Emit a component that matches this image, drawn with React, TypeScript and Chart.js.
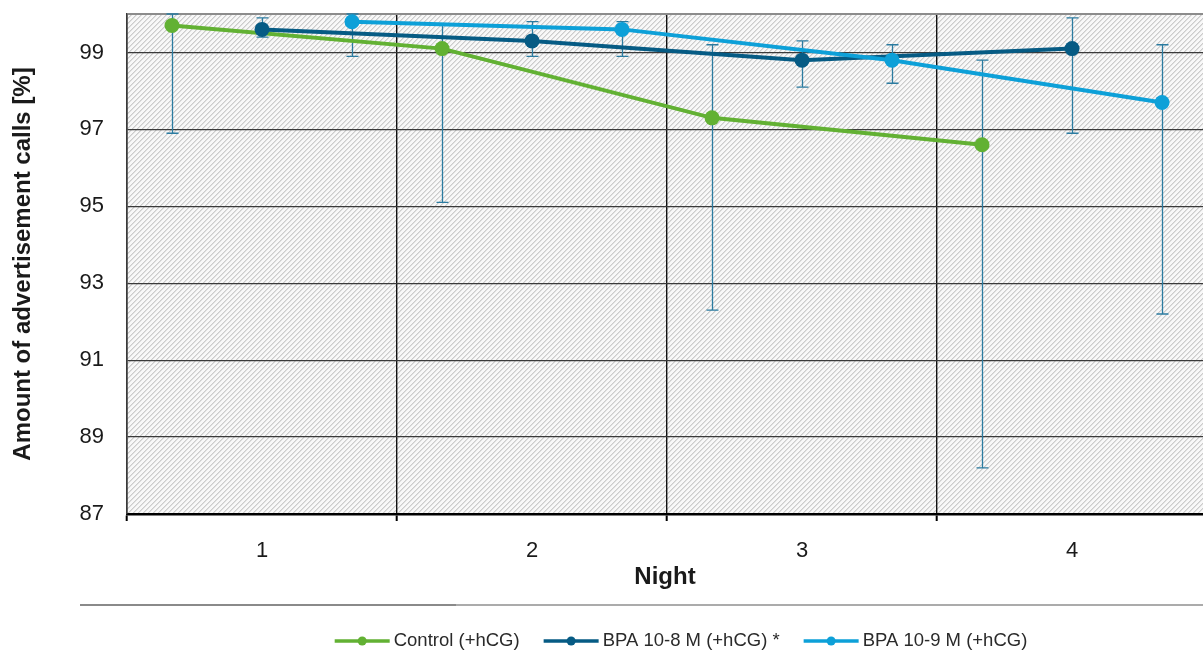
import React, { useEffect, useRef } from 'react';
import { Chart, registerables } from 'chart.js';

Chart.register(...registerables);

// ---------- data ----------
const nights = ['1', '2', '3', '4'];
const yTickValues = [87, 89, 91, 93, 95, 97, 99];
const yMin = 87;
const yMax = 100;
const seriesNames = ['Control (+hCG)', 'BPA 10-8 M (+hCG) *', 'BPA 10-9 M (+hCG)'];

const controlMean = [99.7, 99.1, 97.3, 96.6];
const controlLow = [96.9, 95.1, 92.3, 88.2];
const controlHigh = [100, 99.75, 99.2, 98.8];

const bpa8Mean = [99.6, 99.3, 98.8, 99.1];
const bpa8Low = [99.4, 98.9, 98.1, 96.9];
const bpa8High = [99.9, 99.8, 99.3, 99.9];

const bpa9Mean = [99.8, 99.6, 98.8, 97.7];
const bpa9Low = [98.9, 98.9, 98.2, 92.2];
const bpa9High = [100, 99.8, 99.2, 99.2];

// ---------- styles ----------
const FONT = '"Liberation Sans", Arial, sans-serif';
const COLORS = ['#62b133', '#065b84', '#0da0d8'];
const ERR_COLOR = '#2b7ba0';
const TEXT = '#1a1a1a';
const groupOffsets = [-1 / 3, 0, 1 / 3];

const isBoundary = (v: number) => Math.abs(v - Math.floor(v) - 0.5) < 1e-6;

const makeDataset = (i: number, mean: number[], low: number[], high: number[]) => ({
  label: seriesNames[i],
  data: mean.map((v, k) => ({ x: k + 1 + groupOffsets[i], y: v })),
  errLow: low,
  errHigh: high,
  borderColor: COLORS[i],
  backgroundColor: COLORS[i],
  pointBackgroundColor: COLORS[i],
  pointBorderColor: COLORS[i],
  pointBorderWidth: 0,
  pointRadius: 7.5,
  pointHoverRadius: 7.5,
  borderWidth: 4,
  tension: 0,
  order: 3 - i,
});

const hatchPlugin = {
  id: 'hatch',
  beforeDraw(chart: any) {
    const { ctx, chartArea } = chart;
    const n = 5;
    const tile = document.createElement('canvas');
    tile.width = n;
    tile.height = n;
    const tctx = tile.getContext('2d')!;
    const img = tctx.createImageData(n, n);
    for (let yy = 0; yy < n; yy++) {
      for (let xx = 0; xx < n; xx++) {
        const m = (xx + yy) % n;
        const c = m === 0 ? 204 : m === 1 ? 224 : 248;
        const idx = (yy * n + xx) * 4;
        img.data[idx] = c;
        img.data[idx + 1] = c;
        img.data[idx + 2] = c;
        img.data[idx + 3] = 255;
      }
    }
    tctx.putImageData(img, 0, 0);
    const pattern = ctx.createPattern(tile, 'repeat');
    ctx.save();
    ctx.fillStyle = pattern;
    ctx.fillRect(chartArea.left, chartArea.top, chartArea.right - chartArea.left, chartArea.bottom - chartArea.top);
    ctx.restore();
  },
};

const errorBarPlugin = {
  id: 'errorBars',
  beforeDatasetsDraw(chart: any) {
    const { ctx, chartArea, scales } = chart;
    const x = scales.x;
    const y = scales.y;
    ctx.save();
    ctx.beginPath();
    ctx.rect(chartArea.left, chartArea.top - 1, chartArea.right - chartArea.left, chartArea.bottom - chartArea.top + 1);
    ctx.clip();
    ctx.strokeStyle = ERR_COLOR;
    ctx.lineWidth = 1.3;
    chart.data.datasets.forEach((ds: any) => {
      ds.data.forEach((pt: any, i: number) => {
        const px = Math.round(x.getPixelForValue(pt.x)) + 0.5;
        const yl = y.getPixelForValue(ds.errLow[i]);
        const yh = y.getPixelForValue(ds.errHigh[i]);
        ctx.beginPath();
        ctx.moveTo(px, yl);
        ctx.lineTo(px, yh);
        ctx.moveTo(px - 6, yl);
        ctx.lineTo(px + 6, yl);
        ctx.moveTo(px - 6, yh);
        ctx.lineTo(px + 6, yh);
        ctx.stroke();
      });
    });
    ctx.restore();
  },
};

const legendPlugin = {
  id: 'customLegend',
  afterDraw(chart: any) {
    const { ctx } = chart;
    ctx.save();
    // separator line
    ctx.lineWidth = 2;
    ctx.strokeStyle = '#8a8a8a';
    ctx.beginPath();
    ctx.moveTo(80, 605);
    ctx.lineTo(456, 605);
    ctx.stroke();
    ctx.strokeStyle = '#ababab';
    ctx.beginPath();
    ctx.moveTo(456, 605);
    ctx.lineTo(chart.width, 605);
    ctx.stroke();

    ctx.font = `18.5px ${FONT}`;
    const lineLen = 55;
    const textGap = 4;
    const itemGap = 24;
    const widths = chart.data.datasets.map((d: any) => ctx.measureText(d.label).width);
    const total = widths.reduce((a: number, b: number) => a + b, 0) + widths.length * (lineLen + textGap) + (widths.length - 1) * itemGap;
    let cx = 681 - total / 2;
    const cy = 641;
    chart.data.datasets.forEach((d: any, i: number) => {
      ctx.strokeStyle = d.borderColor;
      ctx.lineWidth = 3.5;
      ctx.beginPath();
      ctx.moveTo(cx, cy);
      ctx.lineTo(cx + lineLen, cy);
      ctx.stroke();
      ctx.fillStyle = d.borderColor;
      ctx.beginPath();
      ctx.arc(cx + lineLen / 2, cy, 4.5, 0, Math.PI * 2);
      ctx.fill();
      ctx.fillStyle = '#2a2a2a';
      ctx.textBaseline = 'middle';
      ctx.textAlign = 'left';
      ctx.fillText(d.label, cx + lineLen + textGap, cy);
      cx += lineLen + textGap + widths[i] + itemGap;
    });
    ctx.restore();
  },
};

export default function App() {
  const ref = useRef<HTMLCanvasElement>(null);
  useEffect(() => {
    document.body.style.margin = '0';
    const xTickValues: number[] = [];
    nights.forEach((_, i) => {
      xTickValues.push(i + 0.5);
      xTickValues.push(i + 1);
    });
    const chart = new Chart(ref.current!, {
      type: 'line',
      data: {
        datasets: [
          makeDataset(0, controlMean, controlLow, controlHigh),
          makeDataset(1, bpa8Mean, bpa8Low, bpa8High),
          makeDataset(2, bpa9Mean, bpa9Low, bpa9High),
        ] as any,
      },
      options: {
        responsive: false,
        animation: false,
        devicePixelRatio: 1,
        layout: { autoPadding: false, padding: { top: 14, right: 0, bottom: 0, left: 0 } },
        plugins: {
          legend: { display: false },
          tooltip: { enabled: false },
        },
        scales: {
          x: {
            type: 'linear',
            min: 0.5,
            max: 4.485,
            afterBuildTicks: (scale: any) => {
              scale.ticks = xTickValues.map((v) => ({ value: v }));
            },
            afterFit: (scale: any) => {
              scale.height = 138;
              scale.paddingLeft = 0;
              scale.paddingRight = 0;
              scale.paddingTop = 0;
              scale.paddingBottom = 0;
            },
            ticks: {
              autoSkip: false,
              maxRotation: 0,
              padding: 17,
              color: TEXT,
              font: { family: FONT, size: 22 },
              callback: (v: any) => (isBoundary(Number(v)) ? '' : nights[Math.round(Number(v)) - 1] ?? ''),
            },
            grid: {
              drawOnChartArea: true,
              color: (c: any) => (c.tick && isBoundary(c.tick.value) ? '#111111' : 'rgba(0,0,0,0)'),
              lineWidth: 1.4,
              tickLength: 7,
              tickWidth: 2,
              tickColor: (c: any) => (c.tick && isBoundary(c.tick.value) ? '#000000' : 'rgba(0,0,0,0)'),
            },
            border: { display: true, color: '#000000', width: 2.5 },
            title: {
              display: true,
              text: 'Night',
              color: TEXT,
              font: { family: FONT, size: 24, weight: 'bold' },
              padding: { top: 0, bottom: 60 },
            },
          },
          y: {
            type: 'linear',
            min: yMin,
            max: yMax,
            afterBuildTicks: (scale: any) => {
              scale.ticks = [...yTickValues, yMax].map((v) => ({ value: v }));
            },
            afterFit: (scale: any) => {
              scale.width = 127;
              scale.paddingLeft = 0;
              scale.paddingRight = 0;
              scale.paddingTop = 0;
              scale.paddingBottom = 0;
            },
            ticks: {
              autoSkip: false,
              padding: 23,
              color: TEXT,
              font: { family: FONT, size: 22 },
              callback: (v: any) => (yTickValues.includes(Number(v)) ? String(v) : ''),
            },
            grid: {
              drawTicks: false,
              color: (c: any) => (c.tick && c.tick.value === yMax ? '#8c8c8c' : '#3a3a3a'),
              lineWidth: (c: any) => (c.tick && c.tick.value === yMax ? 2 : 1.2),
            },
            border: { display: true, color: '#3a3a3a', width: 1.5 },
            title: {
              display: true,
              text: 'Amount of advertisement calls [%]',
              color: TEXT,
              font: { family: FONT, size: 24, weight: 'bold' },
              padding: { top: 9, bottom: 0 },
            },
          },
        },
      } as any,
      plugins: [hatchPlugin, errorBarPlugin, legendPlugin],
    });
    return () => chart.destroy();
  }, []);

  return (
    <div style={{ width: 1203, height: 652 }}>
      <canvas ref={ref} width={1203} height={652} style={{ display: 'block' }} />
    </div>
  );
}
